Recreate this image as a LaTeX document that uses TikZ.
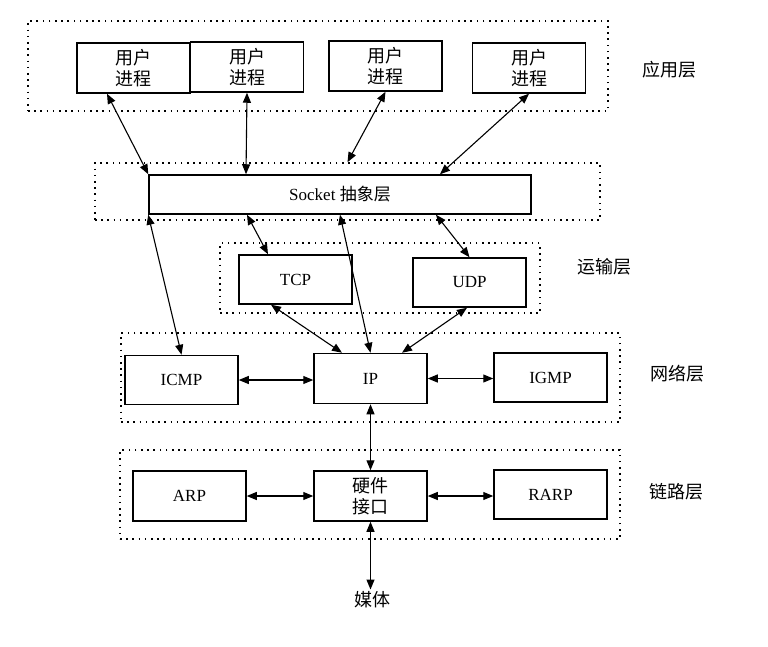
\documentclass[tikz,border=0pt]{standalone}
\usepackage{fontspec}
\setmainfont{Liberation Serif}
\newfontfamily\cjk{Noto Sans CJK SC}
\usetikzlibrary{arrows.meta}

\begin{document}
\begin{tikzpicture}[
  x=1pt, y=-1pt,
  box/.style={draw, line width=1.5pt, inner sep=0pt, minimum width=113pt, minimum height=50pt, align=center, font=\fontsize{17}{20}\selectfont},
  cbox/.style={box, font=\cjk\fontsize{18}{21}\selectfont},
  layer/.style={draw, line width=1.6pt, dash pattern=on 1.6pt off 4.6pt, inner sep=0pt},
  tag/.style={font=\cjk\fontsize{18}{20}\selectfont},
  arrow/.style={{Triangle[length=10pt, width=8pt]}-{Triangle[length=10pt, width=8pt]}, line width=1.1pt}
]
  \useasboundingbox (0, 0) rectangle (768, 647);

  % Layer frames
  \node[layer, minimum width=580pt, minimum height=90pt] (appL) at (318, 66) {};
  \node[layer, minimum width=505pt, minimum height=57pt] (sockL) at (347.5, 191.5) {};
  \node[layer, minimum width=320pt, minimum height=70pt] (tranL) at (380, 278) {};
  \node[layer, minimum width=499pt, minimum height=89pt] (netL) at (370.5, 377.5) {};
  \node[layer, minimum width=500pt, minimum height=89pt] (linkL) at (370, 494.5) {};

  \node[tag] (appT) at (669, 70) {应用层};
  \node[tag] (tranT) at (604, 267) {运输层};
  \node[tag] (netT) at (677, 374) {网络层};
  \node[tag] (linkT) at (676, 492) {链路层};

  % Application layer
  \node[cbox] (u1) at (133.5, 68) {用户\\进程};
  \node[cbox] (u2) at (247, 67) {用户\\进程};
  \node[cbox] (u3) at (385.5, 66) {用户\\进程};
  \node[cbox] (u4) at (529, 68) {用户\\进程};

  % Socket
  \node[box, minimum width=382pt, minimum height=39pt] (sock) at (340, 194.5) {Socket {\cjk 抽象层}};

  % Transport, network, link
  \node[box, minimum height=49pt] (tcp) at (295.5, 279.5) {TCP};
  \node[box, minimum height=49pt] (udp) at (469.5, 282.5) {UDP};
  \node[box, minimum height=49pt] (icmp) at (181.5, 380) {ICMP};
  \node[box] (ip) at (370.5, 378.5) {IP};
  \node[box, minimum height=49pt] (igmp) at (550.5, 377.5) {IGMP};
  \node[box] (arp) at (189.5, 496) {ARP};
  \node[cbox] (hw) at (370.5, 496) {硬件\\接口};
  \node[box, minimum height=49pt] (rarp) at (550.5, 494.5) {RARP};
  \node[tag, inner sep=2pt] (media) at (372, 600) {媒体};

  \draw[arrow] ([xshift=-26.5pt]u1.south) -- (sock.north west);
  \draw[arrow] (u2.south) -- ([xshift=-94pt]sock.north);
  \draw[arrow] (u3.south) -- (sockL.north);
  \draw[arrow] (u4.south) -- ([xshift=100pt]sock.north);

  \draw[arrow] (sock.south west) -- (icmp.north);
  \draw[arrow] ([xshift=-93pt]sock.south) -- ([xshift=-27.5pt]tcp.north);
  \draw[arrow] (sock.south) -- (ip.north);
  \draw[arrow] ([xshift=96pt]sock.south) -- (udp.north);

  \draw[arrow] ([xshift=-24.5pt]tcp.south) -- ([xshift=-28.5pt]ip.north);
  \draw[arrow] ([xshift=-2.5pt]udp.south) -- ([xshift=31.5pt]ip.north);
  \draw[arrow] (icmp.east) -- (icmp.east -| ip.west);
  \draw[arrow] (ip.east) -- (ip.east -| igmp.west);

  \draw[arrow] (ip.south) -- (hw.north);
  \draw[arrow] (arp.east) -- (hw.west);
  \draw[arrow] (hw.east) -- (hw.east -| rarp.west);
  \draw[arrow] (hw.south) -- (hw.south |- media.north);
\end{tikzpicture}
\end{document}
